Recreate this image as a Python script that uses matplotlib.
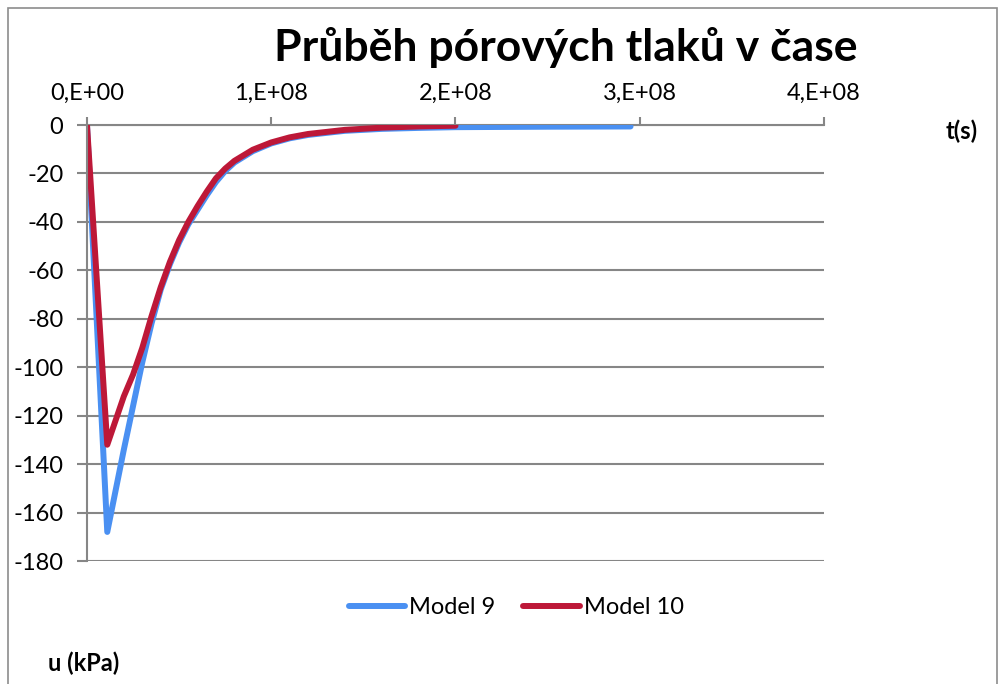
import matplotlib
matplotlib.use("Agg")
import matplotlib.pyplot as plt
from matplotlib.patches import Rectangle

plt.rcParams['font.family'] = ['Lato', 'DejaVu Sans']
plt.rcParams['axes.unicode_minus'] = False

# pore pressure u (kPa) over time t (s)
t_model9 = [0, 1.1e7, 2.0e7, 2.5e7, 3.0e7, 3.5e7, 4.0e7, 4.5e7, 5.0e7, 5.5e7,
            6.0e7, 6.5e7, 7.0e7, 7.5e7, 8.0e7, 9.0e7, 1.0e8, 1.1e8, 1.2e8,
            1.4e8, 1.6e8, 1.8e8, 2.0e8, 2.5e8, 2.95e8]
u_model9 = [0, -168, -134, -116, -98, -82, -68, -57.5, -48.5, -41,
            -35, -29, -23.5, -19, -15.5, -10.8, -7.6, -5.5, -4.1,
            -2.4, -1.6, -1.2, -0.9, -0.7, -0.6]

t_model10 = [0, 1.1e7, 2.0e7, 2.5e7, 3.0e7, 3.5e7, 4.0e7, 4.5e7, 5.0e7, 5.5e7,
             6.0e7, 6.5e7, 7.0e7, 7.5e7, 8.0e7, 9.0e7, 1.0e8, 1.1e8, 1.2e8,
             1.4e8, 1.6e8, 1.8e8, 2.0e8]
u_model10 = [0, -132, -112, -103, -92, -79, -67, -56.5, -47.5, -40,
             -33.5, -27.5, -22, -18, -14.8, -10.2, -7.2, -5.1, -3.7,
             -2.0, -1.1, -0.6, -0.3]

x_ticks = [0, 1e8, 2e8, 3e8, 4e8]
x_labels = ['0,E+00', '1,E+08', '2,E+08', '3,E+08', '4,E+08']
y_ticks = list(range(-180, 1, 20))

grey = '#868686'

fig = plt.figure(figsize=(10.03, 6.84), dpi=100)
fig.patches.append(Rectangle((0.008, -0.01), 0.986, 0.998, transform=fig.transFigure,
                             fill=False, edgecolor='#8c8c8c', linewidth=1.2))

ax = fig.add_axes([87 / 1003, 1 - 561 / 684, (824 - 87) / 1003, (561 - 125) / 684])

ax.plot(t_model9, u_model9, color='#4A90F2', linewidth=4.3, label='Model 9',
        solid_capstyle='round', solid_joinstyle='round')
ax.plot(t_model10, u_model10, color='#BD1838', linewidth=4.3, label='Model 10',
        solid_capstyle='round', solid_joinstyle='round')

ax.set_xlim(0, 4e8)
ax.set_ylim(-180, 0)
ax.set_xticks(x_ticks)
ax.set_xticklabels(x_labels)
ax.set_yticks(y_ticks)
ax.set_yticklabels([str(v) for v in y_ticks])

ax.xaxis.tick_top()
ax.tick_params(axis='x', direction='out', length=6, width=1.5, color=grey,
               pad=9, labelsize=17)
ax.tick_params(axis='y', direction='out', length=7, width=1.5, color=grey,
               pad=10, labelsize=17)

ax.yaxis.grid(True, color=grey, linewidth=1.5)
ax.set_axisbelow(True)
for side in ['right', 'bottom']:
    ax.spines[side].set_visible(False)
for side in ['top', 'left']:
    ax.spines[side].set_color(grey)
    ax.spines[side].set_linewidth(1.5)
ax.spines['top'].set_zorder(0.5)

fig.text(566 / 1003, 1 - 47 / 684, 'Průběh pórových tlaků v čase', ha='center',
         va='center', fontsize=32, fontweight='bold')
fig.text(962 / 1003, 1 - 131 / 684, 't(s)', ha='center', va='center',
         fontsize=17, fontweight='bold')
fig.text(84 / 1003, 1 - 663 / 684, 'u (kPa)', ha='center', va='center',
         fontsize=17, fontweight='bold')

fig.legend(loc='center', bbox_to_anchor=(516 / 1003, 1 - 608 / 684), ncol=2,
           frameon=False, fontsize=17, handlelength=2.4, handletextpad=0.15,
           columnspacing=1.2)

fig.savefig('out.png', dpi=100)
